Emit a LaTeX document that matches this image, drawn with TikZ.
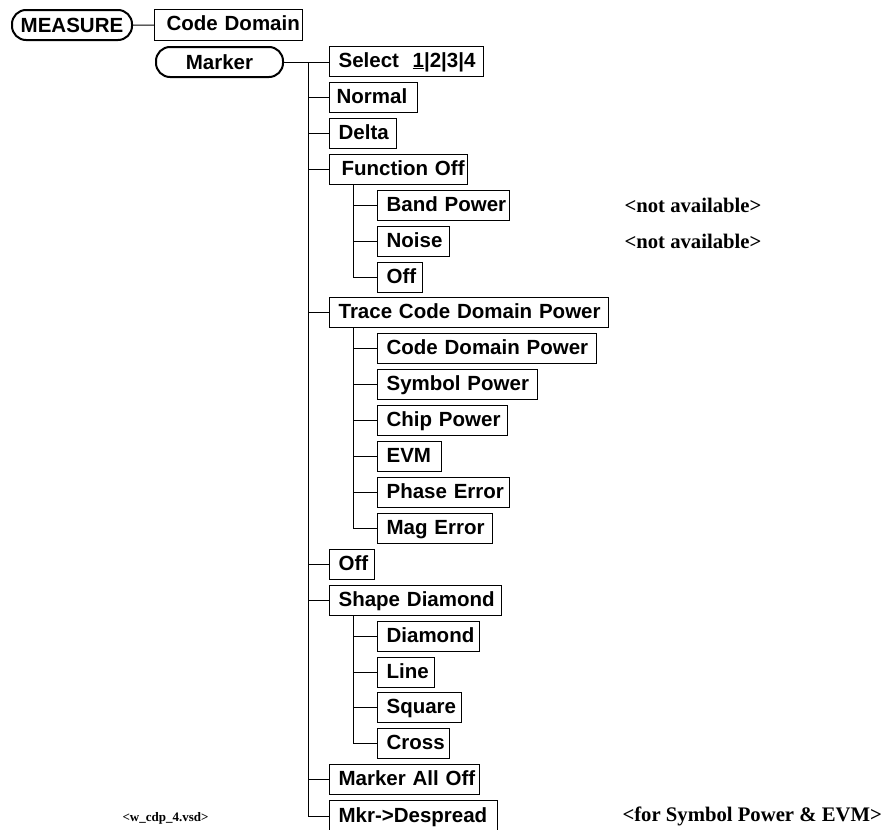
\documentclass[tikz,border=0pt]{standalone}
\usepackage{fontspec}
\setmainfont{Liberation Sans}
\newfontfamily\tnr{Liberation Serif}
\usetikzlibrary{positioning}

\begin{document}
\begin{tikzpicture}[x=1pt, y=-1pt,
  key/.style={draw, line width=2pt, rounded corners=14pt, minimum height=30pt,
              anchor=north west, font=\fontsize{20.5}{24}\selectfont\bfseries, inner sep=2pt},
  itm/.style={draw, line width=1.2pt, anchor=north west, minimum height=30pt,
              inner xsep=9pt, inner ysep=2pt, text width=#1, align=left,
              text height=15pt, text depth=4pt,
              execute at begin node=\hbox\bgroup, execute at end node=\egroup,
              font=\fontsize{20.5}{24}\selectfont\bfseries},
  wire/.style={line width=1pt},
  note/.style={anchor=west, font=\fontsize{20.7}{24}\selectfont\tnr\bfseries}
]
\useasboundingbox (0,0) rectangle (887,830);
% ---------------- hardkey and softkey ----------------
\node[key, minimum width=120pt] (msr) at (11,9) {MEASURE};
\node[itm=130pt, minimum height=31pt, inner xsep=12pt, text width=124pt] (cdm) at (154,9) {Code Domain};
\node[key, minimum width=127pt] (mkr) at (155,46) {Marker};
\draw[wire] (msr.east) -- (cdm.west);
% ---------------- marker menu ----------------
\node[itm=136pt] (sel) at (329,46) {Select \ \underline{1}|2|3|4};
\node[itm=70pt, inner xsep=7pt, text width=74pt] (nrm) at (329,82) {Normal};
\node[itm=49pt] (dlt) at (329,118) {Delta};
\node[itm=120pt, inner xsep=12pt, text width=114pt] (fof) at (329,154) {Function Off};
\node[itm=114pt] (bpw) at (377,190) {Band Power};
\node[itm=54pt] (nse) at (377,226) {Noise};
\node[itm=27pt] (fofo) at (377,262) {Off};
\node[itm=261pt] (tcd) at (329,297) {Trace Code Domain Power};
\node[itm=201pt] (cdp) at (377,333) {Code Domain Power};
\node[itm=142pt] (sym) at (377,369) {Symbol Power};
\node[itm=112pt] (chp) at (377,405) {Chip Power};
\node[itm=46pt] (evm) at (377,441) {EVM};
\node[itm=114pt] (phe) at (377,477) {Phase Error};
\node[itm=97pt] (mge) at (377,513) {Mag Error};
\node[itm=27pt] (off) at (329,549) {Off};
\node[itm=154pt] (shp) at (329,585) {Shape Diamond};
\node[itm=84pt] (dmd) at (377,621) {Diamond};
\node[itm=39pt] (lne) at (377,657) {Line};
\node[itm=66pt] (sqr) at (377,692) {Square};
\node[itm=54pt] (crs) at (377,728) {Cross};
\node[itm=132pt] (mao) at (329,764) {Marker All Off};
\node[itm=150pt, minimum height=32pt] (dsp) at (329,800) {Mkr->Despread};
% ---------------- notes ----------------
\node[note] (na1) at (621,205) {<not available>};
\node[note] (na2) at (621,241) {<not available>};
\node[note] (nsp) at (619,816) {<for Symbol Power \& EVM>};
\node[note, font=\fontsize{13}{15}\selectfont\tnr\bfseries] (vsd) at (119,818) {<w\_cdp\_4.vsd>};
% ---------------- trunk ----------------
\draw[wire] (mkr.east) -- (mkr.east -| sel.west);
\coordinate (tk) at ([xshift=24pt]mkr.east);
\draw[wire] (tk) |- (dsp.west);
\foreach \b in {nrm,dlt,fof,tcd,off,shp,mao}
  \draw[wire] (tk |- \b.west) -- (\b.west);
% ---------------- sub trunks ----------------
\coordinate (st1) at ([xshift=24pt]fof.south west);
\draw[wire] (st1) |- (fofo.west);
\foreach \b in {bpw,nse}
  \draw[wire] (st1 |- \b.west) -- (\b.west);
\coordinate (st2) at ([xshift=24pt]tcd.south west);
\draw[wire] (st2) |- (mge.west);
\foreach \b in {cdp,sym,chp,evm,phe}
  \draw[wire] (st2 |- \b.west) -- (\b.west);
\coordinate (st3) at ([xshift=24pt]shp.south west);
\draw[wire] (st3) |- (crs.west);
\foreach \b in {dmd,lne,sqr}
  \draw[wire] (st3 |- \b.west) -- (\b.west);
\end{tikzpicture}
\end{document}
